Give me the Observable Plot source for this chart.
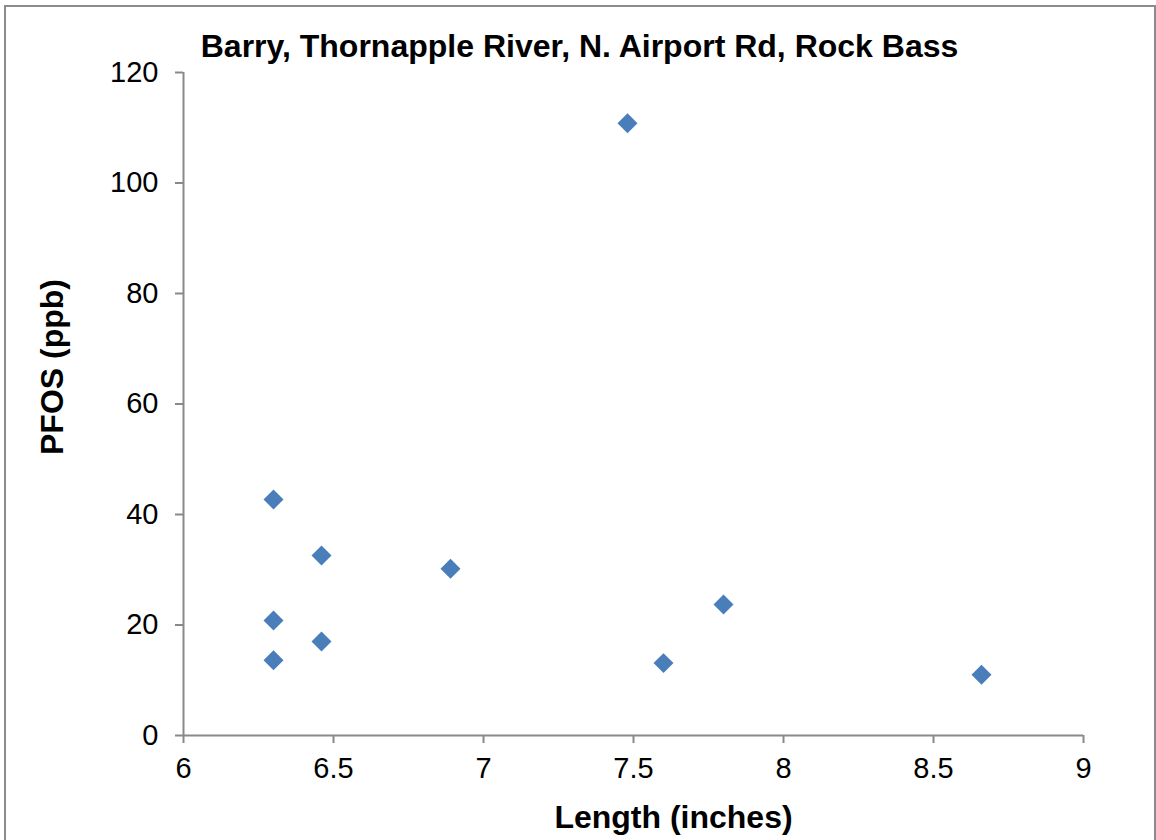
<!DOCTYPE html>
<html><head><meta charset="utf-8">
<script src="https://cdn.jsdelivr.net/npm/d3@7"></script>
<script src="https://cdn.jsdelivr.net/npm/@observablehq/plot@0.6"></script>
<style>
body{margin:0;background:#fff;}
#wrap{position:relative;width:1156px;height:840px;overflow:hidden;}
#wrap svg{display:block;}
#frame{position:absolute;left:4px;top:5px;width:1152px;height:900px;border:2px solid #8c8c8c;box-sizing:border-box;pointer-events:none;}
</style></head><body><div id="wrap"><div id="frame"></div></div>
<script>
const title = "Barry, Thornapple River, N. Airport Rd, Rock Bass";
const xLabel = "Length (inches)";
const yLabel = "PFOS (ppb)";
const lengths = [6.30, 6.30, 6.30, 6.46, 6.46, 6.89, 7.48, 7.60, 7.80, 8.66];
const pfos = [42.7, 20.8, 13.6, 32.6, 17.0, 30.2, 110.8, 13.1, 23.7, 11.0];
const xTicks = [6, 6.5, 7, 7.5, 8, 8.5, 9];
const yTicks = [0, 20, 40, 60, 80, 100, 120];

const data = lengths.map((x, i) => ({x, y: pfos[i]}));
const font = "'Liberation Sans', Arial, sans-serif";
const axisColor = "#898989";

const chart = Plot.plot({
  width: 1156,
  height: 840,
  marginTop: 72,
  marginBottom: 105,
  marginLeft: 183,
  marginRight: 73,
  style: {fontFamily: font, background: "transparent"},
  x: {domain: [6, 9]},
  y: {domain: [0, 120]},
  marks: [
    Plot.ruleY([0], {stroke: axisColor, strokeWidth: 2}),
    Plot.ruleX([6], {stroke: axisColor, strokeWidth: 2}),
    Plot.axisX({ticks: xTicks, tickSize: 8, tickPadding: 14, stroke: axisColor, strokeWidth: 2, fill: "black", fontSize: 29, label: null, tickFormat: d => String(d)}),
    Plot.axisY({ticks: yTicks, tickSize: 8, tickPadding: 17, stroke: axisColor, strokeWidth: 2, fill: "black", fontSize: 29, label: null, tickFormat: d => String(d)}),
    Plot.dot(data, {x: "x", y: "y", symbol: "diamond2", r: 9, fill: "#4a7ebb", stroke: "none"}),
    Plot.text([title], {text: d => d, frameAnchor: "top", dx: -54, dy: -26, lineAnchor: "middle", textAnchor: "middle", fontSize: 32, fontWeight: "bold", fill: "black"}),
    Plot.text([xLabel], {text: d => d, frameAnchor: "bottom", dx: 40, dy: 82, lineAnchor: "middle", textAnchor: "middle", fontSize: 32, fontWeight: "bold", fill: "black"}),
    Plot.text([yLabel], {text: d => d, frameAnchor: "left", dx: -131, dy: -37, rotate: -90, lineAnchor: "middle", textAnchor: "middle", fontSize: 32, fontWeight: "bold", fill: "black"})
  ]
});
document.getElementById("wrap").prepend(chart);
</script>
</body></html>
